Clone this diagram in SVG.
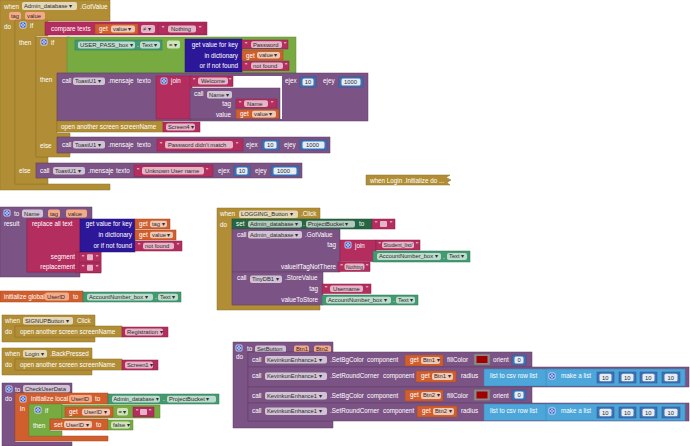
<svg xmlns="http://www.w3.org/2000/svg" width="690" height="446" viewBox="0 0 690 446">
<defs>
<style>
text{font-family:"Liberation Sans",Arial,sans-serif;font-size:6.3px;fill:#fff}
.ft{fill:#2b2b2b;font-size:5.8px}
.e{text-anchor:end}
.gold{fill:#B18E35;stroke:#8E7029;stroke-width:.5}
.pink{fill:#B32D5E;stroke:#8C2249;stroke-width:.5}
.dict{fill:#2D1799;stroke:#221173;stroke-width:.5}
.purple{fill:#7C5385;stroke:#5E3D66;stroke-width:.5}
.orange{fill:#D05F2D;stroke:#A94A20;stroke-width:.5}
.green{fill:#77AB41;stroke:#5C8A30;stroke-width:.5}
.teal{fill:#439970;stroke:#32785A;stroke-width:.5}
.setter{fill:#266643;stroke:#1B4D31;stroke-width:.5}
.num{fill:#3F71B5;stroke:#2F5690;stroke-width:.5}
.list{fill:#4CA6DA;stroke:#3A85B5;stroke-width:.5}
.fd{fill:#fff;fill-opacity:.65}
.fp{fill:#F4A987}
.fn{fill:#E4EDF8}
</style>
<g id="gear"><rect width="6" height="6" rx="1" fill="#3656C6" stroke="#fff" stroke-width=".7"/><circle cx="3" cy="3" r="1.4" fill="none" stroke="#fff" stroke-width=".8"/></g>
</defs>

<g id="connectors"></g>

<!-- Block 1: when Admin_database.GotValue -->
<g id="n-gotvalue">
<path class="gold" d="M0,0H110V21H15V184H110V190H0Z"/>
<text x="4" y="8.5">when</text>
<rect class="fd" x="22" y="2" width="55" height="8" rx="2"/><text class="ft" x="24" y="8.3">Admin_database ▾</text>
<text x="80" y="8.5">.GotValue</text>
<rect class="fp" x="9" y="12" width="12" height="8" rx="2"/><text class="ft" x="11" y="18.1">tag</text>
<rect class="fp" x="25" y="12" width="20" height="8" rx="2"/><text class="ft" x="27" y="18.1">value</text>
<text x="4" y="29">do</text>

<path class="gold" d="M15,20H48V36H36V157H48V163H36V178H48V184H15Z"/>
<use href="#gear" x="20" y="22"/>
<text x="30" y="28">if</text>
<text x="19" y="45">then</text>
<text x="19" y="173">else</text>

<rect class="pink" x="45" y="22" width="162" height="13"/>
<text x="51" y="31">compare texts</text>
<rect class="orange" x="95" y="24" width="43" height="10"/><text x="99" y="31">get</text>
<rect class="fd" x="111" y="25.5" width="24" height="7" rx="2"/><text class="ft" x="113" y="31">value ▾</text>
<rect class="fd" x="141" y="25" width="14" height="8" rx="2"/><text class="ft" x="143" y="31">≠ ▾</text>
<rect class="pink" x="158" y="24" width="47" height="10"/><text x="162" y="31">"</text>
<rect class="fd" x="168" y="25.5" width="28" height="7" rx="2"/><text class="ft" x="171" y="31">Nothing</text><text x="199" y="31">"</text>

<path class="gold" d="M36,37H70V73H57V133H70V137H57V153H70V157H36Z"/>
<use href="#gear" x="41" y="39"/>
<text x="51" y="45">if</text>
<text x="40" y="82">then</text>
<text x="40" y="148">else</text>

<rect class="green" x="67" y="37" width="229" height="36"/>
<rect class="teal" x="75" y="40" width="87" height="10"/>
<rect class="fd" x="78" y="41.5" width="57" height="7" rx="2"/><text class="ft" x="80" y="47" textLength="53" lengthAdjust="spacingAndGlyphs">USER_PASS_box ▾</text>
<text x="137" y="47">.</text>
<rect class="fd" x="140" y="41.5" width="20" height="7" rx="2"/><text class="ft" x="142" y="47">Text ▾</text>
<rect class="fd" x="167" y="40.5" width="13" height="8" rx="2"/><text class="ft" x="169" y="46.8">= ▾</text>
<rect class="dict" x="185" y="39" width="57" height="33"/>
<text class="e" x="238" y="47">get value for key</text>
<text class="e" x="238" y="58">in dictionary</text>
<text class="e" x="238" y="68">or if not found</text>
<rect class="pink" x="242" y="40" width="46" height="9"/><text x="245" y="46.8">"</text>
<rect class="fd" x="251" y="41.3" width="31" height="6.6" rx="2"/><text class="ft" x="253" y="46.7">Password</text><text x="284" y="46.8">"</text>
<rect class="orange" x="242" y="50.5" width="41" height="9.5"/><text x="246" y="57.5">get</text>
<rect class="fd" x="257" y="52" width="23" height="6.6" rx="2"/><text class="ft" x="259" y="57.4">value ▾</text>
<rect class="pink" x="242" y="61" width="47" height="9.5"/><text x="245" y="68">"</text>
<rect class="fd" x="251" y="62.5" width="32" height="6.6" rx="2"/><text class="ft" x="253" y="67.9">not found</text><text x="285" y="68">"</text>

<rect class="purple" x="57" y="73" width="311" height="48"/>
<rect fill="#fff" x="190" y="76" width="92" height="43"/>
<text x="62" y="83">call</text>
<rect class="fd" x="73" y="77.5" width="32" height="7.5" rx="2"/><text class="ft" x="75" y="83.1">ToastU1 ▾</text>
<text x="108" y="83">.mensaje</text>
<text x="137" y="83">texto</text>
<rect class="pink" x="156" y="76" width="36" height="43"/>
<use href="#gear" x="161" y="78"/>
<text x="171" y="83">join</text>
<rect class="pink" x="190" y="76" width="43" height="10.5"/><text x="193" y="83">"</text>
<rect class="fd" x="198" y="77.5" width="30" height="7" rx="2"/><text class="ft" x="201" y="83">Welcome</text><text x="229" y="83">"</text>
<rect class="purple" x="190" y="88" width="90" height="31"/>
<text x="194" y="95.5">call</text>
<rect class="fd" x="207" y="91" width="25" height="7.5" rx="2"/><text class="ft" x="209" y="96.6">Name ▾</text>
<text class="e" x="231" y="106">tag</text>
<rect class="pink" x="236" y="99" width="41" height="9"/><text x="239" y="105.7">"</text>
<rect class="fd" x="244" y="100.3" width="24" height="6.6" rx="2"/><text class="ft" x="247" y="105.6">Name</text><text x="271" y="105.7">"</text>
<text class="e" x="231" y="116.5">value</text>
<rect class="orange" x="236" y="109.5" width="43" height="9"/><text x="240" y="116.2">get</text>
<rect class="fd" x="252" y="110.8" width="24" height="6.6" rx="2"/><text class="ft" x="254" y="116.1">value ▾</text>
<text x="285" y="83">ejex</text>
<rect class="num" x="300" y="77" width="16" height="10"/><rect class="fn" x="302.5" y="78.5" width="11" height="7" rx="1.5"/><text class="ft" x="304.8" y="84">10</text>
<text x="323" y="83">ejey</text>
<rect class="num" x="339" y="77" width="24" height="10"/><rect class="fn" x="341.5" y="78.5" width="19" height="7" rx="1.5"/><text class="ft" x="344" y="84">1000</text>

<rect class="gold" x="57" y="121" width="106" height="11"/>
<text x="61" y="128.8">open another screen  screenName</text>
<rect class="pink" x="163" y="122" width="37" height="10"/>
<rect class="fd" x="166" y="123.5" width="29" height="7" rx="2"/><text class="ft" x="168" y="128.9">Screen4 ▾</text>

<rect class="purple" x="57" y="137" width="273" height="16"/>
<text x="62" y="147.3">call</text>
<rect class="fd" x="73" y="141" width="32" height="7.5" rx="2"/><text class="ft" x="75" y="146.9">ToastU1 ▾</text>
<text x="108" y="147.3">.mensaje</text>
<text x="137" y="147.3">texto</text>
<rect class="pink" x="157" y="139" width="86" height="12"/><text x="160" y="147.3">"</text>
<rect class="fd" x="165" y="141" width="68" height="7.5" rx="2"/><text class="ft" x="168" y="146.9">Password didn't match</text><text x="236" y="147.3">"</text>
<text x="246" y="147.3">ejex</text>
<rect class="num" x="262" y="140" width="17" height="10"/><rect class="fn" x="264.5" y="141.5" width="12" height="7" rx="1.5"/><text class="ft" x="267" y="147">10</text>
<text x="284" y="147.3">ejey</text>
<rect class="num" x="300" y="140" width="27" height="10"/><rect class="fn" x="302.5" y="141.5" width="22" height="7" rx="1.5"/><text class="ft" x="306" y="147">1000</text>

<rect class="purple" x="36" y="163" width="266" height="15"/>
<text x="40" y="173">call</text>
<rect class="fd" x="53" y="167" width="32" height="7.5" rx="2"/><text class="ft" x="55" y="172.7">ToastU1 ▾</text>
<text x="88" y="173">.mensaje</text>
<text x="116" y="173">texto</text>
<rect class="pink" x="134" y="165" width="79" height="11.5"/><text x="137" y="173">"</text>
<rect class="fd" x="142" y="167" width="62" height="7.5" rx="2"/><text class="ft" x="145" y="172.7">Unknown User name</text><text x="206" y="173">"</text>
<text x="218" y="173">ejex</text>
<rect class="num" x="234" y="166" width="16" height="10"/><rect class="fn" x="236.5" y="167.5" width="11" height="7" rx="1.5"/><text class="ft" x="238.8" y="173">10</text>
<text x="255" y="173">ejey</text>
<rect class="num" x="271" y="166" width="28" height="10"/><rect class="fn" x="273.5" y="167.5" width="23" height="7" rx="1.5"/><text class="ft" x="277" y="173">1000</text>
</g>

<!-- Block 2: to Name -->
<g id="n-name-proc">
<path class="purple" d="M0,207H92V219H27V272H80V277H0Z"/>
<use href="#gear" x="4" y="210"/>
<text x="14" y="215.5">to</text>
<rect class="fd" x="22" y="209.5" width="21" height="8" rx="2"/><text class="ft" x="24" y="215.6">Name</text>
<rect class="fp" x="48" y="209.5" width="12" height="8" rx="2"/><text class="ft" x="50" y="215.6">tag</text>
<rect class="fp" x="66" y="209.5" width="21" height="8" rx="2"/><text class="ft" x="68" y="215.6">value</text>
<text x="4" y="226">result</text>
<rect class="pink" x="27" y="219" width="53" height="53"/>
<rect class="pink" x="76" y="252" width="25" height="21"/>
<text x="32" y="226">replace all text</text>
<text class="e" x="75" y="258.5">segment</text>
<text class="e" x="75" y="269">replacement</text>
<rect class="dict" x="80" y="219" width="55" height="33"/>
<text class="e" x="132" y="226">get value for key</text>
<text class="e" x="132" y="237">in dictionary</text>
<text class="e" x="132" y="247.5">or if not found</text>
<rect class="orange" x="135" y="219" width="35" height="10"/><text x="139" y="226">get</text>
<rect class="fd" x="150" y="220.7" width="17" height="6.6" rx="2"/><text class="ft" x="152" y="226.1">tag ▾</text>
<rect class="orange" x="135" y="230" width="41" height="10"/><text x="139" y="237">get</text>
<rect class="fd" x="150" y="231.7" width="23" height="6.6" rx="2"/><text class="ft" x="152" y="237.1">value ▾</text>
<rect class="pink" x="135" y="241" width="47" height="10"/><text x="138" y="248">"</text>
<rect class="fd" x="143" y="242.7" width="31" height="6.6" rx="2"/><text class="ft" x="145" y="248.1">not found</text><text x="177" y="248">"</text>
<rect class="pink" x="79" y="252.5" width="22" height="9.5"/><text x="82" y="259.5">"</text><rect class="fd" x="87" y="254.3" width="6" height="6" rx="1"/><text x="96" y="259.5">"</text>
<rect class="pink" x="79" y="263" width="22" height="9.5"/><text x="82" y="270">"</text><rect class="fd" x="87" y="264.8" width="6" height="6" rx="1"/><text x="96" y="270">"</text>
</g>

<!-- Block 3: initialize global -->
<g id="n-global-userid">
<rect class="orange" x="0" y="291" width="83" height="11"/>
<text x="4" y="299">initialize global</text>
<rect class="fp" x="45" y="292.5" width="24" height="8" rx="2"/><text class="ft" x="47" y="298.7">UserID</text>
<text x="73" y="299">to</text>
<rect class="teal" x="83" y="292" width="98" height="10"/>
<rect class="fd" x="87" y="293.7" width="66" height="6.8" rx="2"/><text class="ft" x="89" y="299.1">AccountNumber_box ▾</text>
<text x="155" y="299.2">.</text>
<rect class="fd" x="158" y="293.7" width="20" height="6.8" rx="2"/><text class="ft" x="160" y="299.1">Text ▾</text>
</g>

<!-- Block 4: when LOGGING_Button.Click -->
<g id="n-logging-click">
<path class="gold" d="M217,208H320V219H232V305H320V310H217Z"/>
<text x="220" y="216">when</text>
<rect class="fd" x="239" y="210.5" width="59" height="7.5" rx="2"/><text class="ft" x="241" y="216.1">LOGGING_Button ▾</text>
<text x="301" y="216">.Click</text>
<text x="220" y="226.5">do</text>
<rect class="setter" x="232" y="219" width="140" height="10"/>
<text x="236" y="226.2">set</text>
<rect class="fd" x="248" y="220.7" width="54" height="6.8" rx="2"/><text class="ft" x="250" y="226.1">Admin_database ▾</text>
<text x="303" y="226.2">.</text>
<rect class="fd" x="306" y="220.7" width="49" height="6.8" rx="2"/><text class="ft" x="308" y="226.1">ProjectBucket ▾</text>
<text x="359" y="226.2">to</text>
<rect class="pink" x="372" y="219" width="23" height="10"/><text x="375" y="226.2">"</text><rect class="fd" x="380" y="221" width="7" height="6" rx="1"/><text x="390" y="226.2">"</text>
<rect class="purple" x="232" y="229" width="108" height="43"/>
<text x="237" y="237">call</text>
<rect class="fd" x="248" y="231" width="54" height="7.5" rx="2"/><text class="ft" x="250" y="236.7">Admin_database ▾</text>
<text x="305" y="237">.GotValue</text>
<text class="e" x="336" y="247">tag</text>
<rect class="pink" x="340" y="240" width="36" height="21.5"/>
<use href="#gear" x="345" y="242"/>
<text x="355" y="247.5">join</text>
<rect class="pink" x="376" y="240" width="44" height="10"/><text x="378.5" y="247">"</text>
<rect class="fd" x="382" y="241.7" width="32" height="6.6" rx="2"/><text class="ft" x="383.5" y="247" textLength="29" lengthAdjust="spacingAndGlyphs">Student_list/</text><text x="416" y="247">"</text>
<rect class="teal" x="373" y="251" width="97" height="11"/>
<rect class="fd" x="377" y="253" width="64" height="7" rx="2"/><text class="ft" x="379" y="258.4">AccountNumber_box ▾</text>
<text x="443" y="258.5">.</text>
<rect class="fd" x="447" y="253" width="20" height="7" rx="2"/><text class="ft" x="449" y="258.4">Text ▾</text>
<text class="e" x="336" y="268.5">valueIfTagNotThere</text>
<rect class="pink" x="338" y="262" width="32" height="9.5"/><text x="340.5" y="269">"</text>
<rect class="fd" x="344.5" y="263.5" width="20" height="6.6" rx="2"/><text class="ft" x="346" y="268.9" textLength="17" lengthAdjust="spacingAndGlyphs">Nothing</text><text x="366" y="269">"</text>
<rect class="purple" x="232" y="272" width="91" height="33"/>
<text x="237" y="280">call</text>
<rect class="fd" x="250" y="275.5" width="32" height="7.5" rx="2"/><text class="ft" x="252" y="281.1">TinyDB1 ▾</text>
<text x="285" y="280">.StoreValue</text>
<text class="e" x="318" y="291">tag</text>
<rect class="pink" x="322" y="284" width="49" height="9.5"/><text x="325" y="291">"</text>
<rect class="fd" x="330" y="285.5" width="33" height="6.6" rx="2"/><text class="ft" x="333" y="290.9">Username</text><text x="366" y="291">"</text>
<text class="e" x="318" y="301.5">valueToStore</text>
<rect class="teal" x="322" y="295" width="96" height="10"/>
<rect class="fd" x="326" y="296.7" width="65" height="6.8" rx="2"/><text class="ft" x="328" y="302.1">AccountNumber_box ▾</text>
<text x="393" y="302.2">.</text>
<rect class="fd" x="396" y="296.7" width="19" height="6.8" rx="2"/><text class="ft" x="398" y="302.1">Text ▾</text>
</g>

<!-- Block 5: collapsed Login.Initialize -->
<g id="n-login-init">
<path class="gold" d="M366,175H450L446,177.5L451,180L447,182.5L450,185H366Z"/>
<text x="370" y="182.5">when  Login .Initialize do ...</text>
</g>

<!-- Block 6: SIGNUPButton.Click -->
<g id="n-signup-click">
<path class="gold" d="M2,315H95V326H15V337H95V342H2Z"/>
<text x="5" y="323">when</text>
<rect class="fd" x="23" y="317" width="50" height="7.5" rx="2"/><text class="ft" x="25" y="322.7">SIGNUPButton ▾</text>
<text x="77" y="323">Click</text>
<text x="5" y="334">do</text>
<rect class="gold" x="15" y="326" width="107" height="11"/>
<text x="20" y="334">open another screen  screenName</text>
<rect class="pink" x="122" y="327" width="46" height="10"/>
<rect class="fd" x="125" y="328.5" width="38" height="7" rx="2"/><text class="ft" x="127" y="333.9">Registration ▾</text>
</g>

<!-- Block 7: Login.BackPressed -->
<g id="n-login-back">
<path class="gold" d="M2,348H92V359H15V370H92V375H2Z"/>
<text x="5" y="356">when</text>
<rect class="fd" x="23" y="350" width="24" height="7.5" rx="2"/><text class="ft" x="25" y="355.7">Login ▾</text>
<text x="50" y="356">.BackPressed</text>
<text x="5" y="367">do</text>
<rect class="gold" x="15" y="359" width="107" height="11"/>
<text x="20" y="367">open another screen  screenName</text>
<rect class="pink" x="122" y="360" width="36" height="10"/>
<rect class="fd" x="125" y="361.5" width="28" height="7" rx="2"/><text class="ft" x="127" y="366.9">Screen1 ▾</text>
</g>

<!-- Block 8: to CheckUserData -->
<g id="n-checkuserdata">
<path class="purple" d="M2,383H72V393H15V442H72V446H2Z"/>
<use href="#gear" x="6" y="386"/>
<text x="15" y="391.5">to</text>
<rect class="fd" x="23" y="385" width="47" height="7.5" rx="2"/><text class="ft" x="25" y="390.9">CheckUserData</text>
<text x="5" y="401">do</text>
<path class="orange" d="M15,393H108V404H29V436H108V441H15Z"/>
<use href="#gear" x="20" y="396"/>
<text x="31" y="401">initialize local</text>
<rect class="fp" x="69" y="395" width="23" height="7.5" rx="2"/><text class="ft" x="71" y="400.9">UserID</text>
<text x="95" y="401">to</text>
<rect class="teal" x="108" y="394" width="111" height="10"/>
<rect class="fd" x="112" y="395.7" width="48" height="6.8" rx="2"/><text class="ft" x="113.5" y="401.1" textLength="45" lengthAdjust="spacingAndGlyphs">Admin_database ▾</text>
<text x="163" y="401.2">.</text>
<rect class="fd" x="167" y="395.7" width="49" height="6.8" rx="2"/><text class="ft" x="169" y="401.1">ProjectBucket ▾</text>
<text x="20" y="411">in</text>
<path class="green" d="M29,404H62V419H50V431H62V436H29Z"/>
<use href="#gear" x="35" y="407"/>
<text x="45" y="413">if</text>
<text x="33" y="427.5">then</text>
<rect class="green" x="62" y="405" width="98" height="13"/>
<rect class="orange" x="65" y="407" width="48" height="10"/><text x="69" y="414">get</text>
<rect class="fd" x="82" y="408.7" width="28" height="6.8" rx="2"/><text class="ft" x="84" y="414.1">UserID ▾</text>
<rect class="fd" x="117" y="408" width="11" height="7.5" rx="2"/><text class="ft" x="118.5" y="413.9">= ▾</text>
<rect class="pink" x="133" y="407" width="21" height="10"/><text x="136" y="414">"</text><rect class="fd" x="140" y="409" width="7" height="6" rx="1"/><text x="149" y="414">"</text>
<rect class="orange" x="50" y="419" width="58" height="11"/>
<text x="54" y="427">set</text>
<rect class="fd" x="64" y="421" width="28" height="7" rx="2"/><text class="ft" x="66" y="426.6">UserID ▾</text>
<text x="96" y="427">to</text>
<rect class="green" x="108" y="420" width="25" height="10"/>
<rect class="fd" x="111" y="421.5" width="19" height="7" rx="2"/><text class="ft" x="113" y="426.9">false ▾</text>
</g>

<!-- Block 9: to SetButton -->
<g id="n-setbutton">
<path class="purple" d="M233,342H333V352H248V421H333V428H233Z"/>
<use href="#gear" x="236" y="345"/>
<text x="247" y="350.5">to</text>
<rect class="fd" x="255" y="345.5" width="31" height="7.5" rx="2"/><text class="ft" x="257" y="351.1">SetButton</text>
<rect class="fp" x="294" y="345.5" width="15" height="7.5" rx="2"/><text class="ft" x="296" y="351.1">Btn1</text>
<rect class="fp" x="314" y="345.5" width="17" height="7.5" rx="2"/><text class="ft" x="316" y="351.1">Btn2</text>
<text x="236" y="359">do</text>

<rect class="purple" x="248" y="352" width="284" height="15"/>
<text x="252" y="361.5">call</text>
<rect class="fd" x="265" y="356" width="62" height="7.5" rx="2"/><text class="ft" x="267" y="361.6">KevinkunEnhance1 ▾</text>
<text x="330" y="361.5">.SetBgColor</text>
<text x="367" y="361.5">component</text>
<rect class="orange" x="405" y="355" width="38" height="11"/><text x="410" y="362">get</text>
<rect class="fd" x="421" y="357" width="19" height="7" rx="2"/><text class="ft" x="423" y="362.4">Btn1 ▾</text>
<text x="447" y="361.5">fillColor</text>
<rect x="474" y="354" width="16" height="11" fill="#8A8A8A" stroke="#6E6E6E" stroke-width=".5"/><rect x="476.5" y="356" width="11" height="7" fill="#A00000"/>
<text x="493" y="361.5">orient</text>
<rect class="num" x="512" y="355" width="14" height="10"/><rect class="fn" x="514.5" y="356.5" width="9" height="7" rx="1.5"/><text class="ft" x="517.5" y="362">0</text>

<rect class="purple" x="248" y="367" width="441" height="20"/>
<text x="252" y="378">call</text>
<rect class="fd" x="265" y="372.5" width="62" height="7.5" rx="2"/><text class="ft" x="267" y="378.1">KevinkunEnhance1 ▾</text>
<text x="330" y="378">.SetRoundCorner</text>
<text x="383" y="378">component</text>
<rect class="orange" x="416" y="371" width="40" height="11"/><text x="421" y="378.2">get</text>
<rect class="fd" x="432" y="373" width="21" height="7" rx="2"/><text class="ft" x="434" y="378.4">Btn1 ▾</text>
<text x="461" y="378">radius</text>
<rect class="list" x="484" y="369" width="201" height="17"/>
<text x="490" y="378">list to csv row  list</text>
<rect class="list" x="546" y="369" width="139" height="17"/>
<use href="#gear" x="549" y="373"/>
<text x="561" y="378">make a list</text>
<rect class="num" x="597" y="372" width="17" height="11"/><rect class="fn" x="599.5" y="373.8" width="12" height="7.4" rx="1.5"/><text class="ft" x="602" y="379.6">10</text>
<rect class="num" x="619" y="372" width="17" height="11"/><rect class="fn" x="621.5" y="373.8" width="12" height="7.4" rx="1.5"/><text class="ft" x="624" y="379.6">10</text>
<rect class="num" x="640" y="372" width="17" height="11"/><rect class="fn" x="642.5" y="373.8" width="12" height="7.4" rx="1.5"/><text class="ft" x="645" y="379.6">10</text>
<rect class="num" x="662" y="372" width="18" height="11"/><rect class="fn" x="664.5" y="373.8" width="13" height="7.4" rx="1.5"/><text class="ft" x="667.5" y="379.6">10</text>

<rect class="purple" x="248" y="387" width="284" height="16"/>
<text x="252" y="397.5">call</text>
<rect class="fd" x="265" y="392" width="62" height="7.5" rx="2"/><text class="ft" x="267" y="397.6">KevinkunEnhance1 ▾</text>
<text x="330" y="397.5">.SetBgColor</text>
<text x="367" y="397.5">component</text>
<rect class="orange" x="405" y="390" width="38" height="11"/><text x="410" y="397.3">get</text>
<rect class="fd" x="421" y="392" width="20" height="7" rx="2"/><text class="ft" x="423" y="397.4">Btn2 ▾</text>
<text x="447" y="397.5">fillColor</text>
<rect x="474" y="389.5" width="16" height="11" fill="#8A8A8A" stroke="#6E6E6E" stroke-width=".5"/><rect x="476.5" y="391.5" width="11" height="7" fill="#A00000"/>
<text x="493" y="397.5">orient</text>
<rect class="num" x="512" y="390" width="14" height="10"/><rect class="fn" x="514.5" y="391.5" width="9" height="7" rx="1.5"/><text class="ft" x="517.5" y="397">0</text>

<rect class="purple" x="248" y="403" width="441" height="18"/>
<text x="252" y="412.5">call</text>
<rect class="fd" x="265" y="407.5" width="62" height="7.5" rx="2"/><text class="ft" x="267" y="413.1">KevinkunEnhance1 ▾</text>
<text x="330" y="412.5">.SetRoundCorner</text>
<text x="383" y="412.5">component</text>
<rect class="orange" x="417" y="406" width="40" height="11"/><text x="422" y="413.2">get</text>
<rect class="fd" x="433" y="408" width="21" height="7" rx="2"/><text class="ft" x="435" y="413.4">Btn2 ▾</text>
<text x="461" y="412.5">radius</text>
<rect class="list" x="484" y="404" width="201" height="16.5"/>
<text x="490" y="413">list to csv row  list</text>
<rect class="list" x="546" y="404" width="139" height="16.5"/>
<use href="#gear" x="549" y="408"/>
<text x="561" y="413">make a list</text>
<rect class="num" x="597" y="407" width="17" height="11"/><rect class="fn" x="599.5" y="408.8" width="12" height="7.4" rx="1.5"/><text class="ft" x="602" y="414.6">10</text>
<rect class="num" x="619" y="407" width="17" height="11"/><rect class="fn" x="621.5" y="408.8" width="12" height="7.4" rx="1.5"/><text class="ft" x="624" y="414.6">10</text>
<rect class="num" x="640" y="407" width="17" height="11"/><rect class="fn" x="642.5" y="408.8" width="12" height="7.4" rx="1.5"/><text class="ft" x="645" y="414.6">10</text>
<rect class="num" x="662" y="407" width="18" height="11"/><rect class="fn" x="664.5" y="408.8" width="13" height="7.4" rx="1.5"/><text class="ft" x="667.5" y="414.6">10</text>
</g>
</svg>
